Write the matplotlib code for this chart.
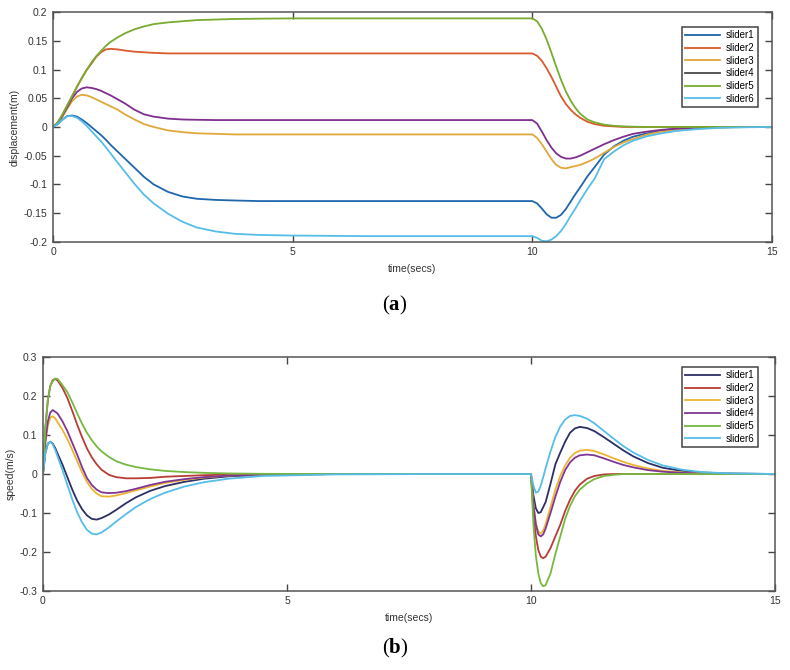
import matplotlib
matplotlib.use("Agg")
import matplotlib.pyplot as plt
from matplotlib.ticker import FormatStrFormatter, FuncFormatter

plt.rcParams['font.family'] = ['Liberation Sans', 'DejaVu Sans']
plt.rcParams['mathtext.fontset'] = 'custom'
plt.rcParams['mathtext.rm'] = 'Liberation Serif'
plt.rcParams['mathtext.bf'] = 'Liberation Serif:bold'

labels = ['slider1', 'slider2', 'slider3', 'slider4', 'slider5', 'slider6']

# (a) displacement
t_disp = [0, 0.1, 0.2, 0.3, 0.4, 0.5, 0.6, 0.7, 0.8, 0.9, 1.0, 1.1, 1.2, 1.35, 1.5,
          1.7, 1.9, 2.1, 2.4, 2.7, 3.0, 3.4, 3.8, 4.3, 5, 6.5, 8, 10,
          10.1, 10.2, 10.3, 10.4, 10.5, 10.6, 10.7, 10.8, 10.9, 11.0, 11.15, 11.3,
          11.5, 11.7, 11.9, 12.1, 12.4, 12.7, 13.0, 13.4, 13.9, 14.5, 15]

d1 = [0, 0.005, 0.013, 0.019, 0.02, 0.018, 0.013, 0.007, 0.0, -0.007, -0.014, -0.022, -0.031, -0.043, -0.055,
      -0.071, -0.087, -0.1, -0.113, -0.121, -0.125, -0.127, -0.128, -0.129, -0.129, -0.129, -0.129, -0.129,
      -0.133, -0.142, -0.152, -0.158, -0.158, -0.153, -0.143, -0.13, -0.117, -0.105, -0.086, -0.07,
      -0.048, -0.034, -0.024, -0.017, -0.011, -0.006, -0.003, -0.0015, -0.0005, 0, 0]
d2 = [0, 0.008, 0.022, 0.038, 0.054, 0.07, 0.085, 0.099, 0.11, 0.122, 0.13, 0.135, 0.136, 0.135, 0.133,
      0.131, 0.13, 0.129, 0.128, 0.128, 0.128, 0.128, 0.128, 0.128, 0.128, 0.128, 0.128, 0.128,
      0.124, 0.115, 0.102, 0.087, 0.07, 0.053, 0.04, 0.03, 0.022, 0.016, 0.009, 0.005,
      0.002, 0.001, 0, 0, 0, 0, 0, 0, 0, 0, 0]
d3 = [0, 0.006, 0.018, 0.032, 0.045, 0.053, 0.056, 0.055, 0.052, 0.048, 0.044, 0.04, 0.036, 0.03, 0.022,
      0.013, 0.005, 0.0, -0.006, -0.009, -0.011, -0.012, -0.013, -0.013, -0.013, -0.013, -0.013, -0.013,
      -0.019, -0.03, -0.043, -0.056, -0.066, -0.071, -0.072, -0.07, -0.068, -0.066, -0.061, -0.055,
      -0.045, -0.035, -0.027, -0.021, -0.013, -0.008, -0.005, -0.003, -0.001, 0, 0]
d4 = [0, 0.007, 0.02, 0.035, 0.05, 0.061, 0.067, 0.069, 0.068, 0.066, 0.063, 0.059, 0.055, 0.048, 0.041,
      0.03, 0.022, 0.018, 0.0145, 0.013, 0.0125, 0.012, 0.012, 0.012, 0.012, 0.012, 0.012, 0.012,
      0.006, -0.008, -0.023, -0.036, -0.046, -0.052, -0.055, -0.055, -0.053, -0.05, -0.044, -0.038,
      -0.03, -0.023, -0.017, -0.012, -0.008, -0.005, -0.003, -0.0015, -0.0005, 0, 0]
d5 = [0, 0.008, 0.022, 0.038, 0.054, 0.07, 0.085, 0.099, 0.112, 0.123, 0.132, 0.141, 0.148, 0.156, 0.163,
      0.17, 0.175, 0.179, 0.182, 0.184, 0.186, 0.187, 0.188, 0.1885, 0.189, 0.189, 0.189, 0.189,
      0.184, 0.171, 0.152, 0.129, 0.105, 0.082, 0.062, 0.046, 0.033, 0.023, 0.013, 0.008,
      0.004, 0.002, 0.001, 0.0005, 0, 0, 0, 0, 0, 0, 0]
d6 = [0, 0.005, 0.013, 0.019, 0.019, 0.016, 0.01, 0.002, -0.007, -0.016, -0.025, -0.035, -0.046, -0.062, -0.078,
      -0.099, -0.118, -0.133, -0.151, -0.165, -0.175, -0.182, -0.186, -0.188, -0.189, -0.19, -0.19, -0.19,
      -0.193, -0.198, -0.199, -0.196, -0.19, -0.181, -0.169, -0.155, -0.142, -0.128, -0.108, -0.09,
      -0.056, -0.043, -0.032, -0.024, -0.016, -0.011, -0.007, -0.004, -0.0015, -0.0005, 0]

# (b) speed
t_speed = [0, 0.05, 0.1, 0.15, 0.2, 0.25, 0.3, 0.4, 0.5, 0.6, 0.7, 0.8, 0.9, 1.0, 1.1, 1.2, 1.35,
           1.5, 1.7, 1.9, 2.2, 2.5, 2.9, 3.3, 3.8, 4.5, 6, 8, 10,
           10.05, 10.1, 10.15, 10.2, 10.25, 10.3, 10.4, 10.5, 10.6, 10.7, 10.8, 10.9, 11.0,
           11.15, 11.3, 11.5, 11.7, 11.9, 12.1, 12.4, 12.7, 13.1, 13.5, 14, 15]

v1 = [0, 0.055, 0.078, 0.083, 0.078, 0.067, 0.052, 0.024, -0.008, -0.04, -0.068, -0.09, -0.106, -0.115, -0.117, -0.113, -0.104,
      -0.092, -0.075, -0.06, -0.043, -0.031, -0.02, -0.012, -0.006, -0.002, 0, 0, 0,
      -0.055, -0.088, -0.1, -0.098, -0.085, -0.072, -0.025, 0.025, 0.055, 0.083, 0.106, 0.117, 0.121,
      0.118, 0.11, 0.094, 0.077, 0.06, 0.045, 0.028, 0.016, 0.008, 0.004, 0.0015, 0]
v2 = [0, 0.12, 0.19, 0.226, 0.241, 0.244, 0.24, 0.221, 0.195, 0.162, 0.127, 0.095, 0.066, 0.043, 0.025, 0.011, -0.002,
      -0.008, -0.011, -0.011, -0.01, -0.007, -0.005, -0.003, -0.0015, -0.0005, 0, 0, 0,
      -0.1, -0.16, -0.195, -0.212, -0.216, -0.212, -0.19, -0.16, -0.13, -0.095, -0.066, -0.043, -0.027,
      -0.012, -0.005, -0.001, 0, 0, 0, 0, 0, 0, 0, 0, 0]
v3 = [0, 0.08, 0.125, 0.145, 0.148, 0.143, 0.133, 0.113, 0.09, 0.062, 0.033, 0.005, -0.02, -0.038, -0.05, -0.057, -0.058,
      -0.055, -0.049, -0.042, -0.032, -0.023, -0.015, -0.009, -0.004, -0.0015, 0, 0, 0,
      -0.075, -0.125, -0.148, -0.153, -0.145, -0.128, -0.085, -0.04, -0.005, 0.022, 0.042, 0.054, 0.06,
      0.062, 0.059, 0.05, 0.04, 0.031, 0.023, 0.014, 0.008, 0.004, 0.002, 0.0007, 0]
v4 = [0, 0.085, 0.135, 0.158, 0.164, 0.16, 0.155, 0.135, 0.11, 0.08, 0.05, 0.018, -0.01, -0.028, -0.04, -0.047, -0.049,
      -0.048, -0.044, -0.038, -0.028, -0.02, -0.013, -0.008, -0.004, -0.0015, 0, 0, 0,
      -0.08, -0.13, -0.155, -0.16, -0.155, -0.14, -0.1, -0.058, -0.02, 0.01, 0.03, 0.042, 0.048,
      0.05, 0.048, 0.04, 0.031, 0.023, 0.017, 0.01, 0.006, 0.003, 0.0015, 0.0005, 0]
v5 = [0, 0.12, 0.19, 0.226, 0.238, 0.245, 0.244, 0.228, 0.21, 0.184, 0.156, 0.129, 0.106, 0.087, 0.071, 0.058, 0.044,
      0.033, 0.024, 0.018, 0.012, 0.008, 0.005, 0.003, 0.0015, 0.0005, 0, 0, 0,
      -0.13, -0.21, -0.255, -0.28, -0.288, -0.285, -0.255, -0.205, -0.16, -0.115, -0.082, -0.057, -0.04,
      -0.024, -0.013, -0.005, -0.002, 0, 0, 0, 0, 0, 0, 0, 0]
v6 = [0, 0.055, 0.078, 0.083, 0.076, 0.062, 0.045, 0.01, -0.028, -0.065, -0.098, -0.124, -0.143, -0.153, -0.155, -0.15, -0.137,
      -0.122, -0.103, -0.085, -0.064, -0.048, -0.032, -0.021, -0.012, -0.005, -0.001, 0, 0,
      -0.03, -0.048, -0.045, -0.03, -0.008, 0.015, 0.058, 0.095, 0.122, 0.14, 0.149, 0.151, 0.149,
      0.142, 0.13, 0.11, 0.09, 0.071, 0.055, 0.036, 0.022, 0.011, 0.005, 0.002, 0]

colors_a = ['#1f66ad', '#d95a2b', '#e0a83a', '#7e2f8e', '#77ac30', '#56bde8']
colors_b = ['#2c2f66', '#b83c36', '#eeb430', '#7e3795', '#77b840', '#56bde8']


def style_axes(ax, yticks, ylabel):
    ax.set_xlim(0, 15)
    ax.set_ylim(yticks[0], yticks[-1])
    ax.set_xticks([0, 5, 10, 15])
    ax.set_yticks(yticks)
    ax.yaxis.set_major_formatter(FuncFormatter(lambda v, p: '%g' % round(v, 3)))
    ax.tick_params(direction='in', length=5, width=1, top=True, right=True,
                   labelsize=7.5, labelcolor='#333333', color='#444444', pad=4)
    for s in ax.spines.values():
        s.set_color('#555555')
        s.set_linewidth(1.1)
    ax.set_xlabel('time(secs)', fontsize=7.5, color='#333333', labelpad=5)
    ax.set_ylabel(ylabel, fontsize=7.5, color='#333333', labelpad=3)


fig = plt.figure(figsize=(7.9, 6.7), dpi=100)

ax1 = fig.add_axes([0.0671, 0.639, 0.910, 0.343])
for y, c, lab in zip([d1, d2, d3, d4, d5, d6], colors_a, labels):
    ax1.plot(t_disp, y, color=c, lw=1.3, label=lab)
style_axes(ax1, [-0.2, -0.15, -0.1, -0.05, 0, 0.05, 0.1, 0.15, 0.2], 'displacement(m)')
leg1 = ax1.legend(loc='upper right', bbox_to_anchor=(763 / 790, 1 - 22 / 670),
                  bbox_transform=fig.transFigure, fontsize=7, handlelength=3.6,
                  labelspacing=0.28, borderpad=0.35, fancybox=False, framealpha=1,
                  edgecolor='#444444', markerfirst=True, handletextpad=0.6)
leg1.get_frame().set_linewidth(1.1)
leg1.get_lines()[3].set_color('#4a4a4a')

ax2 = fig.add_axes([0.0544, 0.118, 0.9266, 0.349])
for y, c, lab in zip([v1, v2, v3, v4, v5, v6], colors_b, labels):
    ax2.plot(t_speed, y, color=c, lw=1.3, label=lab)
style_axes(ax2, [-0.3, -0.2, -0.1, 0, 0.1, 0.2, 0.3], 'speed(m/s)')
leg2 = ax2.legend(loc='upper right', bbox_to_anchor=(763 / 790, 1 - 362 / 670),
                  bbox_transform=fig.transFigure, fontsize=7, handlelength=3.6,
                  labelspacing=0.28, borderpad=0.35, fancybox=False, framealpha=1,
                  edgecolor='#444444', handletextpad=0.6)
leg2.get_frame().set_linewidth(1.1)

fig.text(0.5, 1 - 305 / 670, r'$\mathrm{(}\mathbf{a}\mathrm{)}$', ha='center', va='center', fontsize=15)
fig.text(0.5, 1 - 648 / 670, r'$\mathrm{(}\mathbf{b}\mathrm{)}$', ha='center', va='center', fontsize=15)

fig.savefig('out.png', dpi=100, facecolor='white')
